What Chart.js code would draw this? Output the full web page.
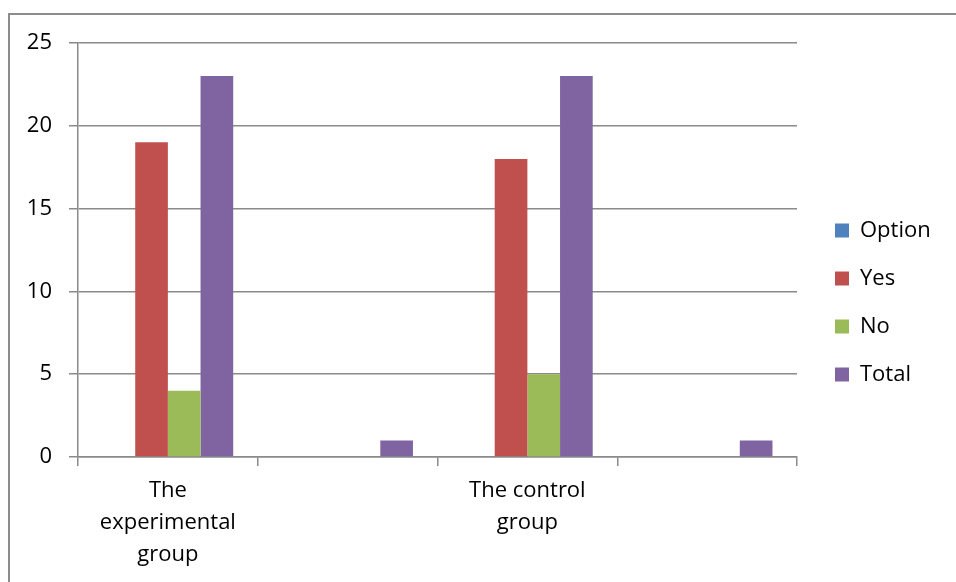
<!DOCTYPE html>
<html><head><meta charset="utf-8">
<script src="https://cdn.jsdelivr.net/npm/chart.js@4.4.0/dist/chart.umd.min.js"></script>
<style>
html,body{margin:0;padding:0;background:#fff;overflow:hidden}
#wrap{position:relative;width:956px;height:582px;overflow:hidden}
#frame{position:absolute;left:8px;top:13px;width:1000px;height:700px;border:2px solid #8c8c8c;box-sizing:border-box}
canvas{position:absolute;left:0;top:0}
</style></head><body>
<div id="wrap"><div id="frame"></div><canvas id="c" width="956" height="582"></canvas></div>
<script>
// ---- data ----
const categories = [["The", "experimental", "group"], "", ["The control", "group"], ""];
const seriesNames = ["Option", "Yes", "No", "Total"];
const optionValues = [0, 0, 0, 0];
const yesValues = [19, 0, 18, 0];
const noValues = [4, 0, 5, 0];
const totalValues = [23, 1, 23, 1];
const yMin = 0, yMax = 25, yStep = 5;

// ---- style ----
const colors = ["#4F81BD", "#C0504D", "#9BBB59", "#8064A2"];
const FONT = "'Open Sans', 'Liberation Sans', sans-serif";
const FS = 22;
const GRID = "#8a8a8a";
const LEGEND_W = 159, LEGEND_DX = 12, LEGEND_DY = -10;

const seriesValues = [optionValues, yesValues, noValues, totalValues];

const legendFix = {
  id: 'legendFix',
  beforeLayout(chart) {
    const lg = chart.legend;
    if (lg && !lg.__patched) {
      const f = lg.fit.bind(lg);
      lg.fit = function () { f(); this.width = LEGEND_W; };
      lg.__patched = true;
    }
  },
  afterLayout(chart) {
    const lg = chart.legend;
    if (lg) { lg.left += LEGEND_DX; lg.right += LEGEND_DX; lg.top += LEGEND_DY; lg.bottom += LEGEND_DY; }
  }
};

new Chart(document.getElementById('c'), {
  type: 'bar',
  data: {
    labels: categories,
    datasets: seriesNames.map((n, i) => ({
      label: n,
      data: seriesValues[i],
      backgroundColor: colors[i],
      borderWidth: 0,
      categoryPercentage: 0.727,
      barPercentage: 1
    }))
  },
  options: {
    responsive: false,
    animation: false,
    devicePixelRatio: 1,
    layout: { padding: { top: 43, left: 0, right: 0, bottom: 0 } },
    plugins: {
      tooltip: { enabled: false },
      legend: {
        position: 'right',
        labels: { boxWidth: 14, boxHeight: 14, padding: 26, color: '#000', font: { family: FONT, size: FS } }
      }
    },
    scales: {
      x: {
        grid: { drawOnChartArea: false, drawTicks: true, tickLength: 9, color: GRID, lineWidth: 1.5, offset: true },
        border: { display: true, color: GRID, width: 1.5 },
        ticks: { color: '#000', font: { family: FONT, size: FS, lineHeight: 32 / FS }, padding: 9, maxRotation: 0, autoSkip: false },
        afterFit(s) { s.height = 125; }
      },
      y: {
        min: yMin, max: yMax,
        ticks: { stepSize: yStep, color: '#000', font: { family: FONT, size: FS }, padding: 17 },
        grid: { color: GRID, lineWidth: 1.5, tickLength: 9, drawTicks: true },
        border: { display: true, color: GRID, width: 1.5 },
        afterFit(s) { s.width = 78; }
      }
    }
  },
  plugins: [legendFix]
});
</script>
</body></html>
